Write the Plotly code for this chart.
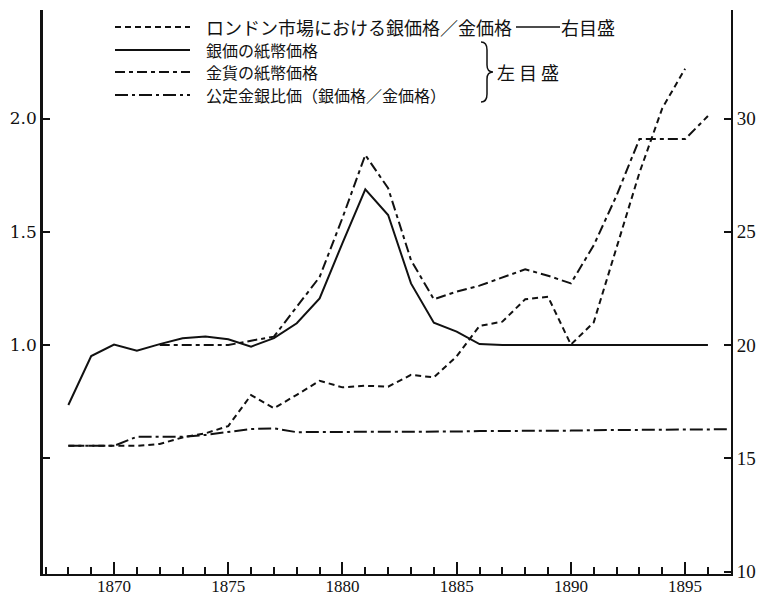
import plotly.graph_objects as go

# ---------------- data ----------------
london_years = list(range(1868, 1896))
london_ratio = [15.55, 15.55, 15.55, 15.55, 15.63, 15.92, 16.10, 16.42, 17.79, 17.21,
                17.80, 18.42, 18.13, 18.20, 18.16, 18.68, 18.57, 19.50, 20.84, 21.03,
                22.02, 22.13, 20.02, 21.00, 24.30, 27.60, 30.45, 32.20]

silver_years = list(range(1868, 1897))
silver_paper = [0.735, 0.951, 1.002, 0.975, 1.004, 1.030, 1.037, 1.025, 0.993, 1.030,
                1.096, 1.206, 1.450, 1.687, 1.574, 1.272, 1.098, 1.059, 1.004, 1.0,
                1.0, 1.0, 1.0, 1.0, 1.0, 1.0, 1.0, 1.0, 1.0]

gold_years = list(range(1872, 1897))
gold_paper = [1.0, 1.0, 1.0, 1.0, 1.019, 1.037, 1.169, 1.30, 1.561, 1.839,
              1.692, 1.375, 1.202, 1.236, 1.262, 1.298, 1.334, 1.306, 1.272, 1.44,
              1.66, 1.909, 1.909, 1.909, 2.011]

official_years = list(range(1868, 1898))
official_ratio = [0.555, 0.555, 0.555, 0.595, 0.595, 0.595, 0.603, 0.615, 0.629, 0.632,
                  0.615, 0.616, 0.616, 0.616, 0.616, 0.616, 0.617, 0.618, 0.620, 0.620,
                  0.620, 0.621, 0.622, 0.624, 0.625, 0.626, 0.627, 0.627, 0.628, 0.628]

x_ticks = [1870, 1875, 1880, 1885, 1890, 1895]
left_tickvals = [0.5, 1.0, 1.5, 2.0]
left_ticktext = ["", "1.0", "1.5", "2.0"]
right_tickvals = [10, 15, 20, 25, 30]

legend_rows = [
    "ロンドン市場における銀価格／金価格",
    "銀価の紙幣価格",
    "金貨の紙幣価格",
    "公定金銀比価（銀価格／金価格）",
]
right_scale_label = "右目盛"
left_scale_label = "左 目 盛"

# ---------------- styles ----------------
INK = "#111111"
DASH_LONDON = "6px,4px"
DASH_GOLD = "10px,4px,4px,4px"
DASH_OFFICIAL = "13px,4px,3px,4px"
CJK = "Noto Sans CJK JP"

fig = go.Figure()
fig.add_trace(go.Scatter(x=london_years, y=london_ratio, yaxis="y2", mode="lines",
                         line=dict(color=INK, width=2, dash=DASH_LONDON)))
fig.add_trace(go.Scatter(x=silver_years, y=silver_paper, mode="lines",
                         line=dict(color=INK, width=2)))
fig.add_trace(go.Scatter(x=gold_years, y=gold_paper, mode="lines",
                         line=dict(color=INK, width=2, dash=DASH_GOLD)))
fig.add_trace(go.Scatter(x=official_years, y=official_ratio, mode="lines",
                         line=dict(color=INK, width=2, dash=DASH_OFFICIAL)))

# plot area in pixels: x 43..731, y 10..574
L, R, T, B = 43, 731, 10, 574
def PX(x):
    return (x - L) / (R - L)
def PY(y):
    return (B - y) / (B - T)

shapes = []
annotations = []
rows_y = [27, 50, 72, 95]
dashes = [DASH_LONDON, "solid", DASH_GOLD, DASH_OFFICIAL]
for i, (txt, yy, dsh) in enumerate(zip(legend_rows, rows_y, dashes)):
    shapes.append(dict(type="line", xref="paper", yref="paper",
                       x0=PX(115), x1=PX(190), y0=PY(yy), y1=PY(yy),
                       line=dict(color=INK, width=2, dash=dsh)))
    annotations.append(dict(text=txt, x=PX(205), y=PY(yy), xref="paper", yref="paper",
                            xanchor="left", yanchor="middle", showarrow=False, borderpad=0,
                            font=dict(family=CJK, size=18 if i == 0 else 16, color=INK)))
# connector to 右目盛
shapes.append(dict(type="line", xref="paper", yref="paper",
                   x0=PX(516), x1=PX(560), y0=PY(27), y1=PY(27),
                   line=dict(color=INK, width=1.5)))
annotations.append(dict(text=right_scale_label, x=PX(560), y=PY(27), xref="paper", yref="paper",
                        xanchor="left", yanchor="middle", showarrow=False, borderpad=0,
                        font=dict(family=CJK, size=18, color=INK)))
# brace
pts = [(481, 42), (487, 42), (487, 50), (487, 65), (487, 72), (493, 72),
       (487, 72), (487, 79), (487, 94), (487, 102), (481, 102)]
p = [(PX(a), PY(b)) for a, b in pts]
path = (f"M {p[0][0]},{p[0][1]} Q {p[1][0]},{p[1][1]} {p[2][0]},{p[2][1]} "
        f"L {p[3][0]},{p[3][1]} Q {p[4][0]},{p[4][1]} {p[5][0]},{p[5][1]} "
        f"Q {p[6][0]},{p[6][1]} {p[7][0]},{p[7][1]} L {p[8][0]},{p[8][1]} "
        f"Q {p[9][0]},{p[9][1]} {p[10][0]},{p[10][1]}")
shapes.append(dict(type="path", xref="paper", yref="paper", path=path,
                   line=dict(color=INK, width=1.5)))
annotations.append(dict(text=left_scale_label, x=PX(496), y=PY(72), xref="paper", yref="paper",
                        xanchor="left", yanchor="middle", showarrow=False, borderpad=0,
                        font=dict(family=CJK, size=18, color=INK)))

fig.update_layout(
    template="none",
    width=761, height=597,
    margin=dict(l=L, r=761 - R, t=T, b=597 - B, pad=0),
    paper_bgcolor="white", plot_bgcolor="white",
    showlegend=False,
    shapes=shapes, annotations=annotations,
    xaxis=dict(range=[1866.89, 1897.01], showline=True, linecolor=INK, linewidth=2,
               showgrid=False, zeroline=False, ticks="inside", tickmode="array",
               tickvals=x_ticks, ticklen=12, tickwidth=1.5, tickcolor=INK,
               tickfont=dict(family="Liberation Serif", size=17, color=INK),
               ticklabelstandoff=-4,
               minor=dict(ticks="inside", tickmode="linear", tick0=1866, dtick=1,
                          ticklen=7, tickwidth=1.5, tickcolor=INK, showgrid=False),
               automargin=False),
    yaxis=dict(range=[-0.011, 2.479], showline=True, linecolor=INK, linewidth=2.5,
               showgrid=False, zeroline=False, ticks="inside", tickmode="array",
               tickvals=left_tickvals, ticktext=left_ticktext, ticklen=7, tickwidth=2,
               tickcolor=INK, tickfont=dict(family="DejaVu Serif", size=17, color=INK),
               automargin=False),
    yaxis2=dict(range=[9.89, 34.79], overlaying="y", side="right", showline=True,
                linecolor=INK, linewidth=2, showgrid=False, zeroline=False,
                ticks="inside", tickmode="array", tickvals=right_tickvals, ticklen=7,
                tickwidth=2, tickcolor=INK,
                tickfont=dict(family="Liberation Serif", size=19, color=INK),
                automargin=False),
)

fig.write_html("out.html", config={"displayModeBar": False},
               post_script="document.body.style.margin='0';")
